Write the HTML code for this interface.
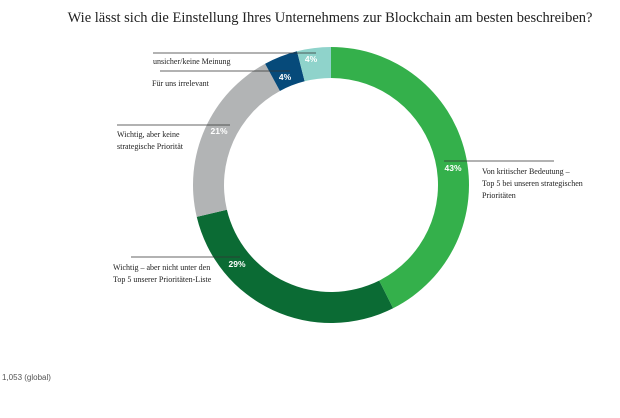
<!DOCTYPE html>
<html><head><meta charset="utf-8"><style>
body{margin:0;background:#fff;width:620px;height:413px;overflow:hidden}
svg text{font-family:"Liberation Serif",serif}
</style></head><body>
<svg width="620" height="413" viewBox="0 0 620 413">
<text x="330" y="22" text-anchor="middle" font-size="14.5" fill="#222">Wie lässt sich die Einstellung Ihres Unternehmens zur Blockchain am besten beschreiben?</text>
<g id="donut"></g>
<g id="labels"></g>
<text x="2" y="380" font-size="8" fill="#555" style="font-family:'Liberation Sans',sans-serif">1,053 (global)</text>
</svg>
<script>
const categories=["Von kritischer Bedeutung","Wichtig – aber nicht unter den Top 5","Wichtig, aber keine strategische Priorität","Für uns irrelevant","unsicher/keine Meinung"];
const values=[43,29,21,4,4];
const valueLabels=["43%","29%","21%","4%","4%"];
const colors=["#34b04b","#0b6b34","#b2b4b5","#064a7a","#8fd3cb"];
const NS="http://www.w3.org/2000/svg";
const cx=331,cy=185,R=138,r=107;
const total=values.reduce((a,b)=>a+b,0);
function pt(a,rad){return [cx+rad*Math.sin(a),cy-rad*Math.cos(a)];}
const g=document.getElementById('donut');
let acc=0;
values.forEach((v,i)=>{
  const a0=acc/total*2*Math.PI; acc+=v; const a1=acc/total*2*Math.PI;
  const large=(a1-a0)>Math.PI?1:0;
  const p0=pt(a0,R),p1=pt(a1,R),q1=pt(a1,r),q0=pt(a0,r);
  const p=document.createElementNS(NS,'path');
  p.setAttribute('d',`M${p0}A${R},${R} 0 ${large} 1 ${p1}L${q1}A${r},${r} 0 ${large} 0 ${q0}Z`);
  p.setAttribute('fill',colors[i]);
  
  
  g.appendChild(p);
});
const lab=[
 {lx1:444,lx2:554,ly:161,tx:482,ty:[174,186,198],lines:["Von kritischer Bedeutung –","Top 5 bei unseren strategischen","Prioritäten"],px:453,py:171},
 {lx1:131,lx2:240,ly:257,tx:113,ty:[270,282],lines:["Wichtig – aber nicht unter den","Top 5 unserer Prioritäten-Liste"],px:237,py:267},
 {lx1:117,lx2:230,ly:125,tx:117,ty:[137,149],lines:["Wichtig, aber keine","strategische Priorität"],px:219,py:134},
 {lx1:160,lx2:290,ly:71,tx:152,ty:[86],lines:["Für uns irrelevant"],px:285,py:80},
 {lx1:153,lx2:316,ly:53,tx:153,ty:[64],lines:["unsicher/keine Meinung"],px:311,py:62}
];
const L=document.getElementById('labels');
lab.forEach((d,i)=>{
  const ln=document.createElementNS(NS,'line');
  ln.setAttribute('x1',d.lx1);ln.setAttribute('x2',d.lx2);ln.setAttribute('y1',d.ly);ln.setAttribute('y2',d.ly);
  ln.setAttribute('stroke','#333');ln.setAttribute('stroke-width','0.8');
  
  
  L.appendChild(ln);
  d.lines.forEach((s,j)=>{
    const t=document.createElementNS(NS,'text');
    t.setAttribute('x',d.tx);t.setAttribute('y',d.ty[j]);t.setAttribute('font-size','8');t.setAttribute('fill','#222');
    t.textContent=s;
    
    
    L.appendChild(t);
  });
  const v=document.createElementNS(NS,'text');
  v.setAttribute('x',d.px);v.setAttribute('y',d.py);v.setAttribute('font-size','8.5');v.setAttribute('fill','#fff');
  v.setAttribute('font-weight','bold');v.setAttribute('text-anchor','middle');
  v.setAttribute('style',"font-family:'Liberation Sans',sans-serif");
  v.textContent=valueLabels[i];
  
  
  L.appendChild(v);
});
</script>
</body></html>
